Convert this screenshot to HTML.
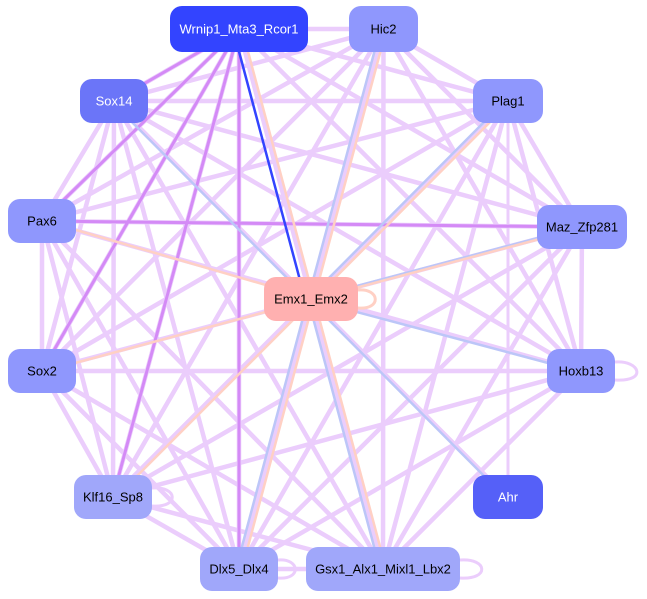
<!DOCTYPE html>
<html><head><style>
body{margin:0;background:#fff;width:647px;height:599px;overflow:hidden}
svg{display:block}
text{font-family:"Liberation Sans",sans-serif;font-size:13px;text-anchor:middle;dominant-baseline:central}
</style></head><body>
<svg id="s" width="647" height="599" xmlns="http://www.w3.org/2000/svg">
<g id="e" stroke-linecap="round"></g>
<g fill="none" stroke="#ebcdfc" stroke-width="3">
<path d="M615,362 C640,360 648,382 615,380"/>
<path d="M152,488 C178,486 180,508 152,506"/>
<path d="M278,560 C300,558 302,580 278,578"/>
<path d="M460,560 C488,558 490,580 460,578"/>
<path d="M358,290 C380,288 382,310 358,308" stroke="#ffd0c4"/>
</g>
<g id="n"></g>
</svg>
<script>
var N={
W:[170,6,138,46,'#3344ff','#fff','Wrnip1_Mta3_Rcor1'],
H:[349,6,69,46,'#8f97fd','#000','Hic2'],
P1:[473,79,70,44,'#8f97fd','#000','Plag1'],
S14:[80,79,68,44,'#6b75f8','#fff','Sox14'],
Px:[8,199,68,44,'#8f97fd','#000','Pax6'],
M:[537,205,90,44,'#8f97fd','#000','Maz_Zfp281'],
E:[264,277,94,44,'#ffb0b0','#000','Emx1_Emx2'],
S2:[8,349,68,44,'#8f97fd','#000','Sox2'],
Hx:[547,349,68,44,'#8f97fd','#000','Hoxb13'],
K:[74,475,78,44,'#a0a7fa','#000','Klf16_Sp8'],
A:[473,475,70,44,'#5560f8','#fff','Ahr'],
D:[200,547,78,44,'#a0a7fa','#000','Dlx5_Dlx4'],
G:[306,547,154,44,'#a0a7fa','#000','Gsx1_Alx1_Mixl1_Lbx2']};
function c(k){var a=N[k];return[a[0]+a[2]/2,a[1]+a[3]/2];}
var ns='http://www.w3.org/2000/svg',eg=document.getElementById('e'),ng=document.getElementById('n');
function L(a,b,col,w,dx){var p=c(a),q=c(b);dx=dx||0;var l=document.createElementNS(ns,'line');
l.setAttribute('x1',p[0]+dx);l.setAttribute('y1',p[1]);l.setAttribute('x2',q[0]+dx);l.setAttribute('y2',q[1]);
l.setAttribute('stroke',col);l.setAttribute('stroke-width',w);eg.appendChild(l);}
var per=['W','H','P1','S14','Px','M','S2','Hx','K','D','G'];
for(var i=0;i<per.length;i++)for(var j=i+1;j<per.length;j++)L(per[i],per[j],'#ebcdfc',4.5);
L('A','P1','#ebcdfc',3);L('A','S14','#ebcdfc',3);
['S14','Px','S2','K','D'].forEach(function(k){L('W',k,'#d48af6',3);});
L('Px','M','#d48af6',3);
['S14','P1','M','Hx','A','D','G','H'].forEach(function(k){L(k,'E','#bcc6f8',2.5,-3);});
['Px','S2','K','W','H','P1','M','G','D'].forEach(function(k){L('E',k,'#ffd0c4',2.5,3);});
L('W','E','#3344ff',2.5,-6);
for(var k in N){var a=N[k],r=document.createElementNS(ns,'rect');
r.setAttribute('x',a[0]);r.setAttribute('y',a[1]);r.setAttribute('width',a[2]);r.setAttribute('height',a[3]);
r.setAttribute('rx',12);r.setAttribute('fill',a[4]);ng.appendChild(r);
var t=document.createElementNS(ns,'text');t.setAttribute('x',a[0]+a[2]/2);t.setAttribute('y',a[1]+a[3]/2);
t.setAttribute('fill',a[5]);t.textContent=a[6];ng.appendChild(t);}
</script>
</body></html>
